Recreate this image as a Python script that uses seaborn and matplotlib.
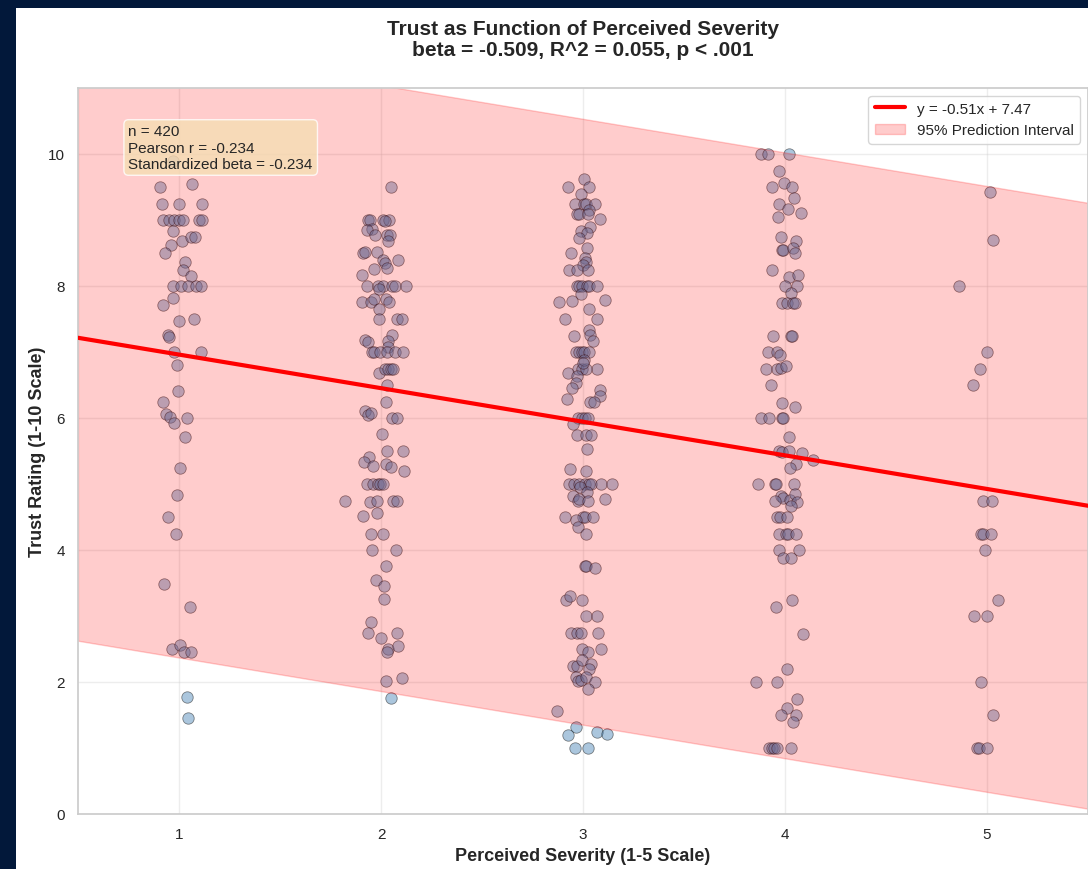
import numpy as np
import pandas as pd
import matplotlib
matplotlib.use("Agg")
import matplotlib.pyplot as plt
from matplotlib.patches import Rectangle, Patch
from matplotlib.lines import Line2D
import seaborn as sns

# ---- observations: jittered severity position and trust rating per severity level ----
sev1_x = [0.970, 0.906, 1.064, 0.914, 1.001, 1.112, 0.922, 0.952, 0.975, 0.999,
          1.018, 1.100, 1.112, 0.972, 1.013, 1.059, 1.079, 0.959, 0.931, 1.030,
          1.018, 1.059, 0.969, 1.010, 1.046, 1.084, 1.107, 0.972, 0.922, 1.076,
          1.001, 0.947, 0.952, 0.975, 1.107, 0.989, 0.997, 0.922, 0.936, 0.955,
          0.975, 1.038, 1.030, 1.005, 0.990, 0.946, 0.985, 0.926, 1.056, 0.964,
          1.005, 1.026, 1.059, 1.038, 1.043]
sev1_y = [9.89, 9.50, 9.55, 9.25, 9.25, 9.25, 9.00, 9.00, 9.00, 9.00,
          9.00, 9.00, 9.00, 8.84, 8.68, 8.75, 8.75, 8.62, 8.50, 8.37,
          8.25, 8.15, 8.00, 8.00, 8.00, 8.00, 8.00, 7.82, 7.71, 7.50,
          7.47, 7.26, 7.23, 7.00, 7.00, 6.80, 6.41, 6.25, 6.06, 6.02,
          5.93, 6.00, 5.71, 5.25, 4.83, 4.50, 4.25, 3.48, 3.13, 2.50,
          2.56, 2.45, 2.46, 1.78, 1.46]

sev2_x = [2.050, 1.937, 1.946, 2.008, 2.041, 2.020, 1.954, 1.932, 1.970, 2.028,
          2.045, 2.036, 1.912, 1.921, 1.979, 2.008, 2.020, 2.028, 2.083, 1.965,
          1.907, 1.932, 1.987, 2.008, 2.053, 2.069, 2.124, 1.992, 1.904, 1.949,
          1.965, 2.025, 2.041, 1.990, 1.990, 2.081, 2.102, 2.053, 1.921, 1.937,
          2.036, 2.036, 1.954, 1.965, 1.995, 2.031, 2.069, 2.107, 1.990, 2.020,
          2.036, 2.048, 2.061, 2.031, 2.025, 1.921, 1.937, 1.949, 2.053, 2.078,
          2.003, 2.031, 2.107, 1.941, 1.916, 1.959, 2.025, 2.048, 2.115, 1.929,
          1.959, 1.987, 1.995, 2.011, 1.823, 1.946, 1.979, 2.058, 2.078, 1.912,
          1.979, 1.949, 2.010, 1.957, 2.073, 2.025, 1.977, 2.015, 2.015, 1.949,
          1.937, 2.001, 2.078, 2.036, 2.028, 2.083, 2.023, 2.105, 2.050]
sev2_y = [9.50, 9.00, 9.00, 9.00, 9.00, 8.98, 8.87, 8.85, 8.77, 8.77,
          8.77, 8.68, 8.50, 8.51, 8.52, 8.40, 8.35, 8.27, 8.40, 8.26,
          8.16, 8.00, 8.00, 8.00, 8.00, 8.00, 8.00, 7.96, 7.76, 7.76,
          7.81, 7.81, 7.76, 7.65, 7.50, 7.50, 7.50, 7.26, 7.18, 7.15,
          7.17, 7.08, 7.00, 7.00, 7.00, 7.00, 7.00, 7.00, 6.68, 6.75,
          6.75, 6.75, 6.75, 6.50, 6.25, 6.10, 6.04, 6.07, 6.00, 6.00,
          5.76, 5.50, 5.50, 5.41, 5.34, 5.27, 5.30, 5.26, 5.19, 5.00,
          5.00, 5.00, 5.00, 5.00, 4.75, 4.73, 4.75, 4.75, 4.75, 4.51,
          4.56, 4.25, 4.25, 4.00, 4.00, 3.76, 3.54, 3.45, 3.26, 2.91,
          2.75, 2.67, 2.75, 2.50, 2.45, 2.54, 2.01, 2.06, 1.76]

sev3_x = [3.005, 2.927, 3.030, 2.990, 2.960, 3.006, 3.015, 3.061, 3.031, 2.972,
          2.982, 3.023, 3.083, 3.033, 2.990, 3.018, 2.982, 3.021, 2.941, 3.010,
          3.015, 3.001, 2.931, 2.969, 3.023, 2.969, 2.982, 2.994, 3.018, 3.031,
          3.068, 2.990, 2.883, 2.944, 3.109, 3.031, 2.912, 3.068, 3.031, 3.035,
          3.051, 2.955, 2.965, 2.982, 2.994, 3.005, 3.031, 3.069, 2.977, 2.994,
          3.015, 3.006, 3.001, 2.927, 2.972, 2.965, 2.946, 3.084, 3.086, 2.921,
          3.035, 3.054, 2.977, 2.994, 3.010, 3.026, 2.949, 2.969, 3.015, 3.038,
          3.021, 2.936, 3.015, 2.932, 2.955, 2.982, 3.010, 3.031, 3.040, 3.088,
          3.145, 2.985, 3.018, 2.949, 2.977, 2.982, 3.026, 3.109, 2.912, 3.001,
          3.010, 3.051, 2.965, 2.977, 3.015, 3.010, 3.013, 3.061, 2.914, 2.936,
          2.994, 3.015, 3.069, 2.941, 2.969, 2.990, 3.073, 2.995, 3.025, 3.088,
          2.952, 2.972, 2.995, 3.041, 3.031, 2.965, 2.977, 2.990, 3.013, 3.059,
          3.026, 2.870, 2.965, 2.924, 3.071, 3.119, 2.960, 3.026]
sev3_y = [9.62, 9.50, 9.50, 9.40, 9.25, 9.25, 9.25, 9.25, 9.15, 9.09,
          9.09, 9.09, 9.02, 8.90, 8.83, 8.80, 8.73, 8.57, 8.50, 8.42,
          8.36, 8.32, 8.25, 8.25, 8.25, 8.00, 8.00, 8.00, 8.00, 8.00,
          8.00, 7.88, 7.76, 7.77, 7.79, 7.65, 7.50, 7.50, 7.33, 7.26,
          7.17, 7.24, 7.00, 7.00, 7.00, 7.00, 7.00, 6.75, 6.75, 6.75,
          6.75, 6.88, 6.83, 6.68, 6.64, 6.53, 6.46, 6.42, 6.33, 6.29,
          6.25, 6.25, 6.00, 6.00, 6.00, 6.00, 5.91, 5.75, 5.75, 5.75,
          5.53, 5.22, 5.19, 5.00, 5.00, 5.00, 5.00, 5.00, 5.00, 5.00,
          5.00, 4.95, 4.88, 4.82, 4.75, 4.78, 4.75, 4.78, 4.50, 4.50,
          4.50, 4.50, 4.45, 4.35, 4.25, 3.76, 3.76, 3.72, 3.25, 3.30,
          3.25, 3.00, 3.00, 2.75, 2.75, 2.75, 2.75, 2.50, 2.45, 2.50,
          2.25, 2.25, 2.33, 2.27, 2.19, 2.07, 2.01, 2.03, 2.07, 2.00,
          1.89, 1.56, 1.32, 1.20, 1.25, 1.21, 1.00, 1.00]

sev4_x = [3.879, 3.917, 4.021, 3.972, 3.934, 3.996, 4.034, 4.046, 3.970, 4.015,
          3.965, 4.077, 3.978, 3.985, 3.988, 4.053, 4.038, 4.051, 3.934, 4.021,
          4.066, 4.001, 4.057, 4.028, 3.983, 4.008, 4.041, 4.051, 3.942, 4.028,
          4.033, 3.917, 3.962, 3.975, 3.904, 3.962, 3.978, 4.005, 3.930, 3.983,
          4.049, 3.881, 3.921, 3.985, 3.992, 4.020, 3.972, 3.985, 4.021, 4.086,
          4.137, 4.054, 4.025, 3.864, 3.950, 3.955, 4.044, 3.978, 3.992, 4.025,
          4.049, 4.061, 3.950, 4.028, 3.959, 3.975, 4.008, 3.972, 4.003, 4.013,
          4.054, 3.972, 4.069, 3.988, 4.029, 4.033, 3.957, 4.091, 4.011, 3.855,
          3.959, 4.058, 4.008, 3.980, 4.053, 4.041, 3.921, 3.934, 3.945, 3.962,
          4.028]
sev4_y = [10.00, 10.00, 10.00, 9.75, 9.50, 9.56, 9.50, 9.34, 9.25, 9.16,
          9.04, 9.10, 8.75, 8.55, 8.55, 8.68, 8.58, 8.50, 8.25, 8.14,
          8.16, 8.00, 8.00, 7.89, 7.75, 7.75, 7.75, 7.75, 7.25, 7.25,
          7.25, 7.00, 7.00, 6.96, 6.75, 6.75, 6.76, 6.79, 6.50, 6.23,
          6.17, 6.00, 6.00, 6.00, 6.00, 5.71, 5.50, 5.48, 5.50, 5.47,
          5.36, 5.30, 5.24, 5.00, 5.00, 5.00, 5.00, 4.82, 4.79, 4.76,
          4.85, 4.72, 4.74, 4.66, 4.50, 4.50, 4.50, 4.25, 4.25, 4.25,
          4.25, 4.00, 4.00, 3.88, 3.88, 3.25, 3.13, 2.73, 2.20, 2.00,
          2.00, 1.75, 1.60, 1.50, 1.50, 1.40, 1.00, 1.00, 1.00, 1.00,
          1.00]

sev5_x = [5.015, 5.028, 4.860, 4.999, 4.966, 4.933, 4.982, 5.023, 4.969, 4.982,
          5.020, 4.990, 5.053, 4.936, 4.999, 4.970, 5.032, 4.949, 4.962, 5.002]
sev5_y = [9.42, 8.70, 8.00, 7.00, 6.75, 6.50, 4.75, 4.75, 4.25, 4.25,
          4.25, 4.00, 3.25, 3.00, 3.00, 2.00, 1.50, 1.00, 1.00, 1.00]

# ---- regression summary ----
slope = -0.509
intercept = 7.47
pi_half_width = 4.59
r_squared = 0.055
pearson_r = -0.234
std_beta = -0.234
n_obs = 420

severity_ticks = [1, 2, 3, 4, 5]
trust_ticks = [0, 2, 4, 6, 8, 10]

df = pd.DataFrame({
    "severity": sev1_x + sev2_x + sev3_x + sev4_x + sev5_x,
    "trust": sev1_y + sev2_y + sev3_y + sev4_y + sev5_y,
})

sns.set_theme(style="whitegrid")
plt.rcParams["font.family"] = ["Liberation Sans", "DejaVu Sans"]

fig = plt.figure(figsize=(10.88, 8.7), dpi=100, facecolor="#02183a")
# white panel inside the dark frame, drawn beneath the axes
fig.patches.append(Rectangle((16 / 1088, 0), 1 - 16 / 1088, 1 - 9 / 870,
                             transform=fig.transFigure, facecolor="white",
                             edgecolor="none", zorder=-10))
ax = fig.add_axes([78 / 1088, 55 / 870, 1 - 78 / 1088, 726 / 870])
ax.set_zorder(1)
ax.grid(True, alpha=0.35)

xlim = (0.5, 5.5)
xs = np.linspace(xlim[0], xlim[1], 200)
fit = slope * xs + intercept

# points first, the translucent interval band over them, the fit line on top
sns.scatterplot(data=df, x="severity", y="trust", ax=ax, s=68,
                color="steelblue", alpha=0.45, edgecolor="black",
                linewidth=0.6, zorder=1)
ax.fill_between(xs, fit - pi_half_width, fit + pi_half_width,
                color="red", alpha=0.2, zorder=2)
sns.lineplot(x=xs, y=fit, ax=ax, color="red", linewidth=3, zorder=3)

ax.set_xlim(*xlim)
ax.set_ylim(0, 11)
ax.set_xticks(severity_ticks)
ax.set_yticks(trust_ticks)
ax.tick_params(labelsize=11, colors="#262626")

ax.set_xlabel("Perceived Severity (1-5 Scale)", fontsize=13, fontweight="bold")
ax.set_ylabel("Trust Rating (1-10 Scale)", fontsize=13, fontweight="bold",
              labelpad=1)
ax.set_title(f"Trust as Function of Perceived Severity\n"
             f"beta = {slope:.3f}, R^2 = {r_squared:.3f}, p < .001",
             fontsize=15, fontweight="bold", pad=24, linespacing=1.1)

handles = [
    Line2D([0], [0], color="red", linewidth=3),
    Patch(facecolor="red", edgecolor="red", alpha=0.2),
]
labels = [f"y = {slope:.2f}x + {intercept:.2f}", "95% Prediction Interval"]
ax.legend(handles, labels, loc="upper right", fontsize=11, frameon=True)

ax.text(0.05, 0.95,
        f"n = {n_obs}\nPearson r = {pearson_r:.3f}\nStandardized beta = {std_beta:.3f}",
        transform=ax.transAxes, fontsize=11, va="top", zorder=5,
        bbox=dict(boxstyle="round", facecolor="wheat", alpha=0.8))

fig.savefig("out.png", dpi=100, facecolor=fig.get_facecolor())
